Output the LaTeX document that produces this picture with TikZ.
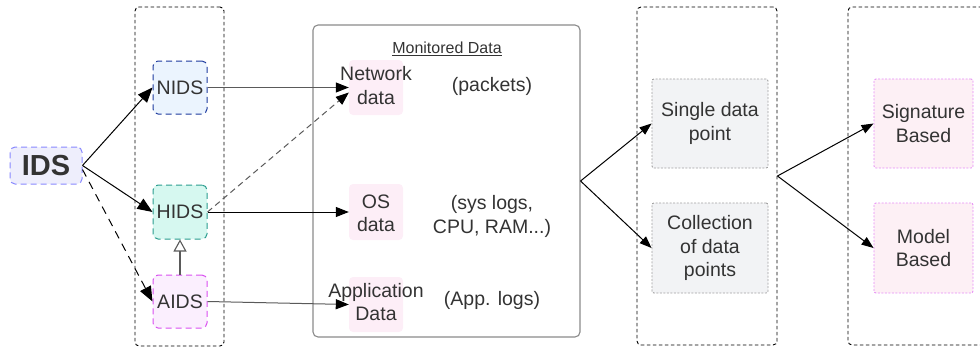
\documentclass[tikz,border=0pt]{standalone}
\usepackage{fontspec}
\setmainfont{Liberation Sans}
\usetikzlibrary{arrows.meta}
\definecolor{txt}{HTML}{333333}
\definecolor{idsfill}{HTML}{EEEEFC}
\definecolor{idsline}{HTML}{8888FF}
\definecolor{nidsfill}{HTML}{EBF4FE}
\definecolor{nidsline}{HTML}{1D3A9E}
\definecolor{hidsfill}{HTML}{D6F8F0}
\definecolor{hidsline}{HTML}{2A9D8F}
\definecolor{aidsfill}{HTML}{FBEFFE}
\definecolor{aidsline}{HTML}{D94EF0}
\definecolor{datafill}{HTML}{FDEEF7}
\definecolor{grayfill}{HTML}{F2F3F5}
\definecolor{grayline}{HTML}{A0A0A0}
\definecolor{pinkfill}{HTML}{FDF0F5}
\definecolor{pinkline}{HTML}{E68CF5}
\definecolor{monline}{HTML}{8A8A8A}
\definecolor{linkgray}{HTML}{5A5A5A}
\tikzset{
  every node/.style={text=txt, font=\fontsize{19.5}{23.5}\selectfont, align=center, inner sep=0pt},
  container/.style={draw=black, dash pattern=on 3.5pt off 2.5pt, line width=0.9pt, rounded corners=4pt},
  idsbox/.style={draw, dash pattern=on 6pt off 4pt, line width=1pt, rounded corners=5pt},
  databox/.style={fill=datafill, rounded corners=4pt, minimum width=54pt},
  kindbox/.style={draw=grayline, fill=grayfill, dash pattern=on 2pt off 1.5pt, line width=0.9pt, rounded corners=2pt, minimum width=116pt},
  detbox/.style={draw=pinkline, fill=pinkfill, dash pattern=on 2pt off 1.5pt, line width=0.9pt, rounded corners=2pt, minimum width=99pt},
  biglink/.style={line width=1pt, -{Triangle[length=15pt,width=12pt,color=black]}},
  link/.style={line width=1pt, -{Triangle[length=13pt,width=10pt,color=black]}},
  smalllink/.style={line width=1pt, -{Triangle[length=12pt,width=9pt,color=black]}},
}
\begin{document}
\begin{tikzpicture}[x=1pt,y=-1pt]
\useasboundingbox (0,0) rectangle (980,348);
\clip (0,0) rectangle (980,348);

% group containers
\node[container, minimum width=89pt, minimum height=339pt] (leftgrp) at (179.5,176.5) {};
\node[draw=monline, line width=1.1pt, rounded corners=5pt, minimum width=267pt, minimum height=312pt] (mon) at (446.5,181) {};
\node[container, minimum width=140pt, minimum height=338pt] (midgrp) at (707,176) {};
\node[container, minimum width=150pt, minimum height=338pt] (rightgrp) at (923,176) {};

% IDS and its three kinds
\node[idsbox, draw=idsline, fill=idsfill, minimum width=72pt, minimum height=37pt,
      font=\fontsize{29}{34}\selectfont\bfseries] (ids) at (46,165.5) {IDS};
\node[idsbox, draw=nidsline, fill=nidsfill, minimum width=54pt, minimum height=53pt] (nids) at (180,87.5) {NIDS};
\node[idsbox, draw=hidsline, fill=hidsfill, minimum width=54pt, minimum height=54pt] (hids) at (180,212) {HIDS};
\node[idsbox, draw=aidsline, fill=aidsfill, minimum width=54pt, minimum height=53pt] (aids) at (180,301.5) {AIDS};

% monitored data
\node[font=\fontsize{16}{19}\selectfont] (montitle) at (447,49) {\underline{Monitored Data}};
\node[databox, minimum height=55pt] (net) at (376,87.5) {};
\node[databox, minimum height=56pt] (os) at (376,212) {};
\node[databox, minimum height=55pt] (app) at (376,304.5) {};
\node (netlbl) at (376,85.5) {Network\\data};
\node (oslbl) at (376,213.5) {OS\\data};
\node (applbl) at (376,302) {Application\\Data};
\node (netnote) at (492,86) {(packets)};
\node (osnote) at (492,216.5) {(sys logs,\\CPU, RAM...)};
\node (appnote) at (492,300) {(App. logs)};

% granularity
\node[kindbox, minimum height=89pt] (single) at (710,123.5) {Single data\\point};
\node[kindbox, minimum height=90pt] (coll) at (710,248) {Collection\\of data\\points};

% detection method
\node[detbox, minimum height=89pt] (sig) at (923.5,123.5) {Signature\\Based};
\node[detbox, minimum height=90pt] (model) at (923.5,248) {Model\\Based};

% connectors
\draw[biglink] (ids.east) -- (nids.west);
\draw[biglink] (ids.east) -- (hids.west);
\draw[biglink, dash pattern=on 8pt off 6pt] ([yshift=-4pt]ids.east) -- (aids.west);
\draw[line width=1.1pt, draw=linkgray, -{Triangle[open,length=12pt,width=13pt,fill=white]}] (aids.north) -- (hids.south);

\draw[link, draw=linkgray] (nids.east) -- (net.west);
\draw[link, draw=linkgray, dash pattern=on 6pt off 4pt] (hids.east) -- ([yshift=-5pt]net.west);
\draw[link] (hids.east) -- (os.west);
\draw[link, draw=linkgray] (aids.east) -- (app.west);

\draw[smalllink] (mon.east) -- (single.west);
\draw[smalllink] (mon.east) -- (coll.west);
\draw[smalllink] (midgrp.east) -- (sig.west);
\draw[smalllink] (midgrp.east) -- (model.west);
\end{tikzpicture}
\end{document}
